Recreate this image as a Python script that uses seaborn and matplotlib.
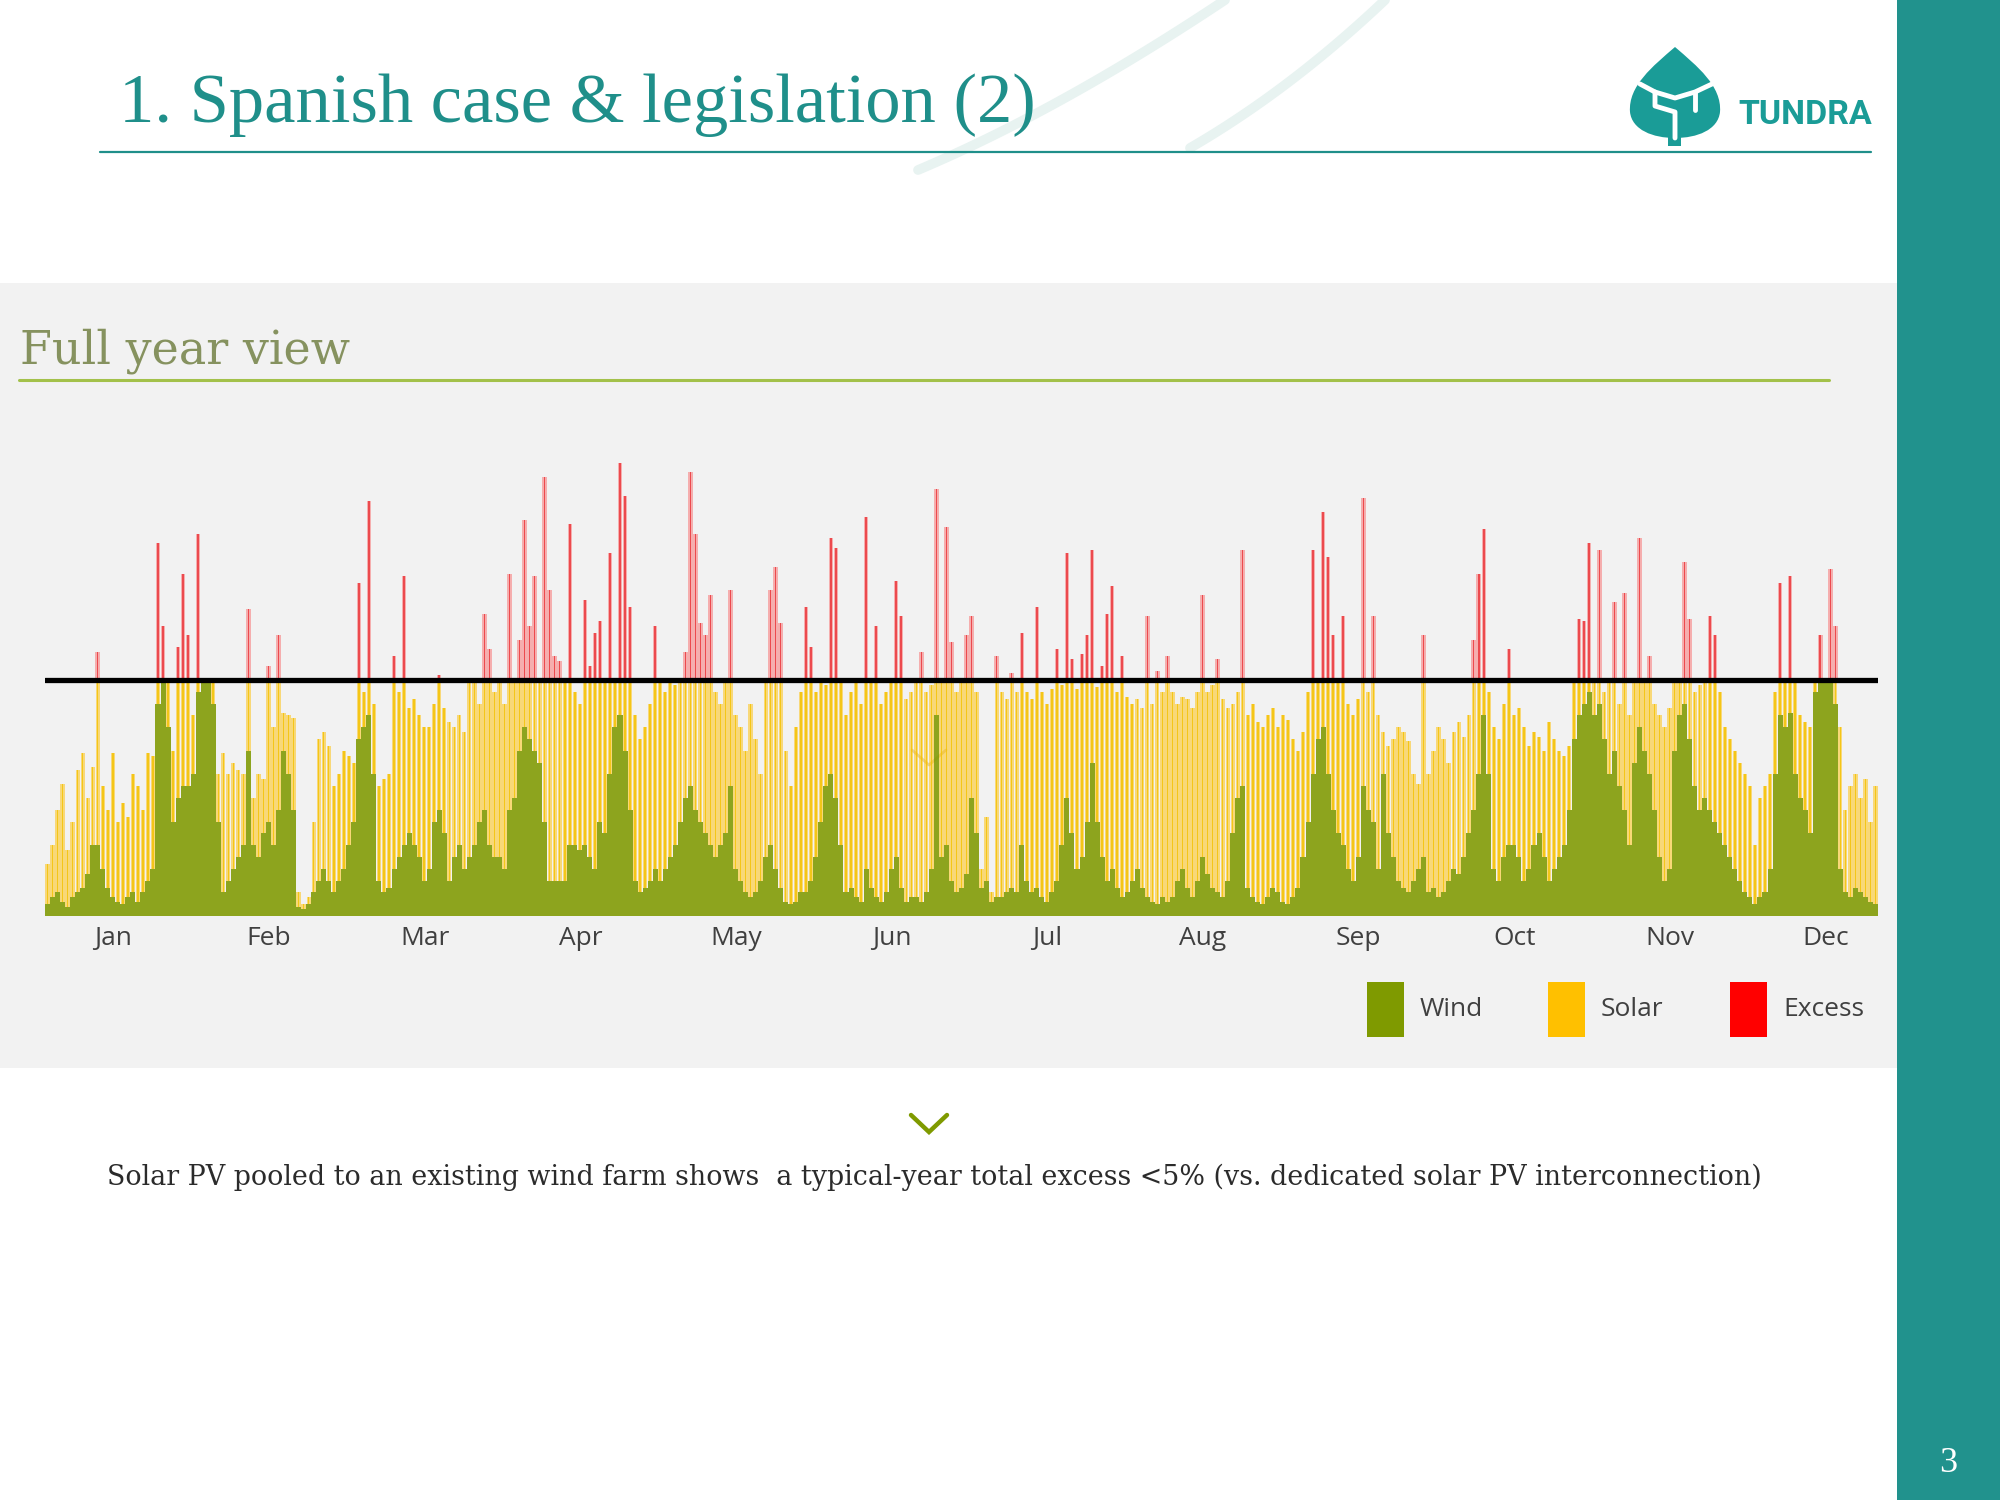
import numpy as np
import pandas as pd
import matplotlib
matplotlib.use("Agg")
import matplotlib.pyplot as plt
import seaborn as sns
from matplotlib.path import Path
from matplotlib.patches import PathPatch, Rectangle

# ---------------- data (daily resolution) ----------------
months = ["Jan", "Feb", "Mar", "Apr", "May", "Jun",
          "Jul", "Aug", "Sep", "Oct", "Nov", "Dec"]

THRESHOLD = 100  # interconnection capacity (% of wind farm capacity)

# top of the yellow (wind + solar) for every day, capped at the threshold
peak = [
    22, 30, 45, 56, 28, 40, 62, 69, 50, 63,
    100, 55, 45, 69, 40, 48, 42, 60, 55, 45,
    69, 68, 100, 100, 100, 70, 100, 100, 100, 85,
    100, 100, 100, 100, 60, 69, 60, 65, 62, 60,
    100, 50, 60, 58, 100, 80, 100, 86, 85, 84,
    10, 5, 8, 40, 75, 78, 72, 55, 60, 70,
    68, 65, 100, 95, 100, 90, 55, 58, 60, 100,
    95, 100, 88, 92, 85, 80, 80, 90, 100, 88,
    82, 80, 85, 78, 100, 100, 90, 100, 100, 95,
    100, 90, 100, 100, 100, 100, 100, 100, 100, 100,
    100, 100, 100, 100, 100, 95, 90, 100, 100, 100,
    100, 100, 100, 100, 100, 100, 100, 85, 75, 80,
    90, 100, 100, 95, 100, 98, 100, 100, 100, 100,
    100, 100, 100, 95, 90, 100, 100, 85, 80, 70,
    90, 75, 60, 100, 100, 100, 100, 70, 55, 80,
    95, 100, 100, 95, 100, 98, 100, 100, 100, 85,
    95, 100, 90, 100, 100, 100, 90, 95, 100, 100,
    100, 92, 95, 100, 100, 95, 98, 100, 100, 100,
    100, 95, 100, 100, 100, 95, 20, 42, 10, 100,
    95, 92, 100, 95, 100, 95, 92, 100, 95, 90,
    96, 100, 98, 100, 100, 96, 100, 100, 100, 97,
    100, 100, 100, 95, 100, 93, 90, 92, 88, 100,
    90, 100, 95, 100, 95, 90, 93, 92, 88, 95,
    100, 95, 98, 100, 92, 88, 90, 95, 100, 85,
    90, 82, 80, 85, 88, 80, 85, 83, 75, 70,
    78, 95, 100, 100, 100, 100, 100, 100, 100, 90,
    85, 92, 100, 95, 100, 85, 78, 72, 75, 80,
    78, 74, 60, 56, 100, 60, 70, 80, 75, 65,
    78, 82, 76, 85, 100, 100, 100, 95, 80, 75,
    90, 100, 85, 88, 80, 72, 78, 76, 70, 82,
    75, 70, 68, 72, 100, 100, 100, 100, 100, 100,
    95, 100, 100, 90, 100, 85, 100, 100, 100, 100,
    90, 85, 80, 88, 100, 100, 100, 100, 95, 98,
    100, 100, 100, 95, 80, 75, 70, 65, 60, 55,
    30, 50, 55, 60, 95, 100, 100, 100, 100, 85,
    82, 80, 100, 100, 100, 100, 100, 80, 45, 55,
    60, 50, 58, 40, 55,
]

# wind production for every day
wind = [
    5, 8, 10, 6, 4, 8, 10, 12, 18, 30,
    30, 20, 12, 8, 6, 5, 8, 10, 6, 10,
    15, 20, 90, 100, 80, 40, 50, 55, 55, 60,
    95, 100, 100, 90, 40, 10, 15, 20, 25, 30,
    70, 30, 25, 35, 40, 30, 45, 70, 60, 45,
    4, 3, 5, 10, 15, 20, 15, 10, 15, 20,
    30, 40, 75, 80, 85, 60, 15, 10, 12, 20,
    25, 30, 35, 30, 25, 15, 20, 40, 45, 35,
    15, 25, 30, 20, 25, 30, 40, 45, 30, 25,
    25, 20, 45, 50, 70, 80, 75, 70, 65, 40,
    15, 15, 15, 15, 30, 30, 28, 30, 25, 20,
    40, 35, 60, 80, 85, 70, 45, 15, 10, 12,
    15, 20, 15, 20, 25, 30, 40, 50, 55, 45,
    40, 35, 30, 25, 30, 35, 55, 20, 15, 10,
    8, 10, 15, 25, 30, 20, 12, 6, 5, 6,
    10, 10, 15, 25, 40, 55, 60, 50, 30, 10,
    12, 8, 6, 20, 12, 8, 6, 10, 20, 25,
    12, 6, 8, 8, 6, 10, 20, 85, 25, 30,
    15, 10, 12, 18, 50, 35, 12, 15, 6, 8,
    8, 10, 12, 10, 30, 15, 10, 12, 8, 6,
    10, 15, 30, 50, 35, 20, 25, 40, 65, 40,
    25, 15, 20, 12, 8, 10, 15, 20, 12, 8,
    6, 5, 8, 6, 8, 15, 20, 12, 8, 15,
    25, 18, 12, 10, 8, 15, 35, 50, 55, 12,
    8, 6, 5, 8, 12, 10, 6, 5, 8, 12,
    25, 40, 60, 75, 80, 60, 45, 35, 30, 20,
    15, 25, 55, 45, 40, 20, 60, 35, 25, 15,
    12, 10, 15, 20, 25, 10, 12, 8, 10, 15,
    20, 18, 25, 35, 45, 60, 85, 60, 20, 15,
    25, 30, 30, 25, 15, 20, 30, 35, 25, 15,
    20, 25, 30, 45, 75, 85, 90, 95, 85, 90,
    75, 60, 70, 55, 45, 30, 65, 80, 70, 60,
    45, 25, 15, 20, 70, 85, 90, 75, 55, 45,
    50, 45, 40, 35, 30, 25, 20, 15, 10, 8,
    5, 8, 10, 20, 60, 85, 80, 86, 60, 50,
    45, 35, 95, 100, 100, 100, 90, 20, 10, 8,
    12, 10, 8, 6, 5,
]

# days with production above the interconnection capacity, and the excess
excess_days = [10, 22, 23, 26, 27, 28, 30, 40, 44, 46,
               62, 64, 69, 71, 78, 87, 88, 92, 94, 95,
               96, 97, 99, 100, 101, 102, 104, 107, 108, 109,
               110, 112, 114, 115, 116, 121, 127, 128, 129, 130,
               131, 132, 136, 144, 145, 146, 151, 152, 156, 157,
               163, 165, 169, 170, 174, 177, 179, 180, 183, 184,
               189, 192, 194, 197, 201, 203, 204, 206, 207, 208,
               210, 211, 212, 214, 219, 221, 223, 230, 233, 238,
               252, 254, 255, 256, 258, 262, 264, 274, 284, 285,
               286, 291, 305, 306, 307, 309, 312, 314, 317, 319,
               326, 327, 331, 332, 345, 347, 353, 355, 356]
excess_vals = [12, 58, 23, 14, 45, 19, 62, 30, 6, 19,
               41, 76, 10, 44, 2, 28, 13, 45, 17, 68,
               23, 44, 86, 38, 10, 8, 66, 34, 6, 20,
               25, 54, 92, 78, 31, 23, 12, 88, 62, 24,
               19, 36, 38, 38, 48, 24, 31, 14, 60, 56,
               69, 23, 42, 27, 12, 81, 65, 16, 19, 27,
               10, 3, 20, 31, 13, 54, 9, 11, 19, 55,
               6, 28, 40, 10, 27, 4, 10, 36, 9, 55,
               55, 71, 52, 19, 27, 77, 27, 19, 17, 45,
               64, 13, 26, 25, 58, 55, 33, 37, 60, 10,
               50, 26, 27, 19, 41, 44, 19, 47, 23]

assert len(peak) == 365 and len(wind) == 365
assert len(excess_days) == len(excess_vals)

days = np.arange(365)
wind_arr = np.minimum(np.array(wind, float), np.array(peak, float))
solar_arr = np.array(peak, float) - wind_arr
df = pd.DataFrame({"day": days, "wind": wind_arr, "solar": solar_arr})
df_ex = pd.DataFrame({"day": excess_days, "excess": excess_vals})

# ---------------- style ----------------
sns.set_theme(style="white")
plt.rcParams["font.family"] = ["Open Sans", "DejaVu Sans"]

TEAL = "#1f8f8a"
BAND = "#21928d"
WIND_C = "#7f9a00"
SOLAR_C = "#ffc000"
EXCESS_C = "#ff0000"

fig = plt.figure(figsize=(20, 15), dpi=100, facecolor="white")

# page layer in pixel coordinates
page = fig.add_axes([0, 0, 1, 1], zorder=0)
page.set_xlim(0, 2000)
page.set_ylim(1500, 0)
page.axis("off")
page.patch.set_alpha(0)

page.add_patch(Rectangle((0, 283), 1897, 785, color="#f2f2f2", lw=0))
page.add_patch(Rectangle((1897, 0), 103, 1500, color=BAND, lw=0))

# faint decorative swooshes behind the title
t = np.linspace(0, 1, 80)
for (p0, p1, p2) in [((918, 170), (1060, 110), (1225, 0)),
                     ((1190, 148), (1290, 90), (1385, 0))]:
    bx = (1 - t) ** 2 * p0[0] + 2 * (1 - t) * t * p1[0] + t ** 2 * p2[0]
    by = (1 - t) ** 2 * p0[1] + 2 * (1 - t) * t * p1[1] + t ** 2 * p2[1]
    page.plot(bx, by, color="#e8f3f1", lw=7, solid_capstyle="round", zorder=0.5)

renderer = fig.canvas.get_renderer()


def fit_text(x, y, s, target_w, **kw):
    txt = page.text(x, y, s, **kw)
    w = txt.get_window_extent(renderer).width
    txt.set_fontsize(txt.get_fontsize() * target_w / w)
    return txt


# header
fit_text(119, 122, "1. Spanish case & legislation (2)", 915, fontsize=40,
         family=["Liberation Serif", "DejaVu Serif"], color=TEAL, va="baseline")
page.plot([100, 1871], [152, 152], color=TEAL, lw=1.6)

# logo
leaf = Path([(1675, 47), (1697, 66), (1722, 86), (1720, 112),
             (1718, 130), (1697, 138), (1675, 138),
             (1653, 138), (1632, 130), (1630, 112),
             (1628, 86), (1653, 66), (1675, 47), (1675, 47)],
            [Path.MOVETO, Path.CURVE4, Path.CURVE4, Path.CURVE4,
             Path.CURVE4, Path.CURVE4, Path.CURVE4,
             Path.CURVE4, Path.CURVE4, Path.CURVE4,
             Path.CURVE4, Path.CURVE4, Path.CURVE4, Path.CLOSEPOLY])
page.add_patch(PathPatch(leaf, facecolor="#1a9c97", edgecolor="none", zorder=2))
page.add_patch(Rectangle((1668, 128), 13, 18, color="#1a9c97", lw=0, zorder=2))
page.plot([1640, 1655, 1675, 1695, 1712], [84, 92, 98, 92, 84],
          color="white", lw=3.5, zorder=3, solid_joinstyle="round")
page.plot([1655, 1655, 1675, 1675], [92, 106, 112, 138],
          color="white", lw=3.5, zorder=3, solid_joinstyle="round")
page.plot([1695, 1695], [92, 110], color="white", lw=3.5, zorder=3)
fit_text(1738, 124, "TUNDRA", 134, fontsize=40, fontweight="bold",
         family=["Liberation Sans Narrow", "Roboto", "DejaVu Sans"],
         color="#1a9c97", va="baseline")

# section header
fit_text(20, 363, "Full year view", 330, fontsize=30,
         family=["DejaVu Serif"], color="#86925f", va="baseline")
page.plot([19, 1829], [380, 380], color="#a3c14a", lw=2.2)

# ---------------- chart ----------------
ax = fig.add_axes([45 / 2000, 1 - 916 / 1500, 1833 / 2000, 472 / 1500], zorder=2)
ax.patch.set_alpha(0)

# wind (bottom of the stack)
sns.barplot(data=df, x="day", y="wind", native_scale=True, width=1.0,
            color=WIND_C, saturation=1, errorbar=None, linewidth=0,
            alpha=0.88, antialiased=False, ax=ax, zorder=2)
# solar on top of wind
sns.barplot(data=df, x="day", y="solar", native_scale=True, width=0.85,
            color=SOLAR_C, saturation=1, errorbar=None, linewidth=0,
            alpha=0.5, bottom=df["wind"].to_numpy(), ax=ax, zorder=3)
sns.barplot(data=df, x="day", y="solar", native_scale=True, width=0.3,
            color="#f4c200", saturation=1, errorbar=None, linewidth=0,
            alpha=0.8, bottom=df["wind"].to_numpy(), ax=ax, zorder=3)
# excess above the interconnection capacity
sns.barplot(data=df_ex, x="day", y="excess", native_scale=True, width=0.9,
            color=EXCESS_C, saturation=1, errorbar=None, linewidth=0,
            alpha=0.28, bottom=THRESHOLD, ax=ax, zorder=4)
sns.barplot(data=df_ex, x="day", y="excess", native_scale=True, width=0.3,
            color="#e8141b", saturation=1, errorbar=None, linewidth=0,
            alpha=0.65, bottom=THRESHOLD, ax=ax, zorder=4)

ax.axhline(THRESHOLD, color="black", lw=3.8, zorder=6, solid_capstyle="round")

ax.set_xlim(-0.5, 364.5)
ax.set_ylim(0, 200)
ax.set_xticks(np.arange(12) * 31 + 13.1)
ax.set_xticklabels(months, fontsize=19, color="#404040")
ax.set_yticks([])
ax.tick_params(axis="x", length=0, pad=7)
ax.set_xlabel("")
ax.set_ylabel("")
sns.despine(ax=ax, left=True, bottom=True)

# legend
for x0, col, lab in [(1367, WIND_C, "Wind"), (1548, SOLAR_C, "Solar"),
                     (1730, EXCESS_C, "Excess")]:
    page.add_patch(Rectangle((x0, 982), 37, 55, color=col, lw=0, zorder=3))
    page.text(x0 + 53, 1009, lab, fontsize=19, color="#404040",
              va="center", ha="left", zorder=3)

# faint chevron inside the chart and the green chevron below
page.plot([912, 929, 946], [750, 765, 750], color="#c99500", alpha=0.35, lw=2, zorder=5)
page.plot([911, 929, 947], [1115, 1132, 1115], color=WIND_C, lw=3.2,
          solid_joinstyle="miter", zorder=3)

fit_text(107, 1177, "Solar PV pooled to an existing wind farm shows  a typical-year total "
         "excess <5% (vs. dedicated solar PV interconnection)", 1648, fontsize=20,
         family=["DejaVu Serif"], color="#2b2b2b", va="center")

page.text(1948, 1463, "3", fontsize=26, color="white", ha="center", va="center",
          family=["Liberation Serif", "DejaVu Serif"])

fig.savefig("out.png", dpi=100)
